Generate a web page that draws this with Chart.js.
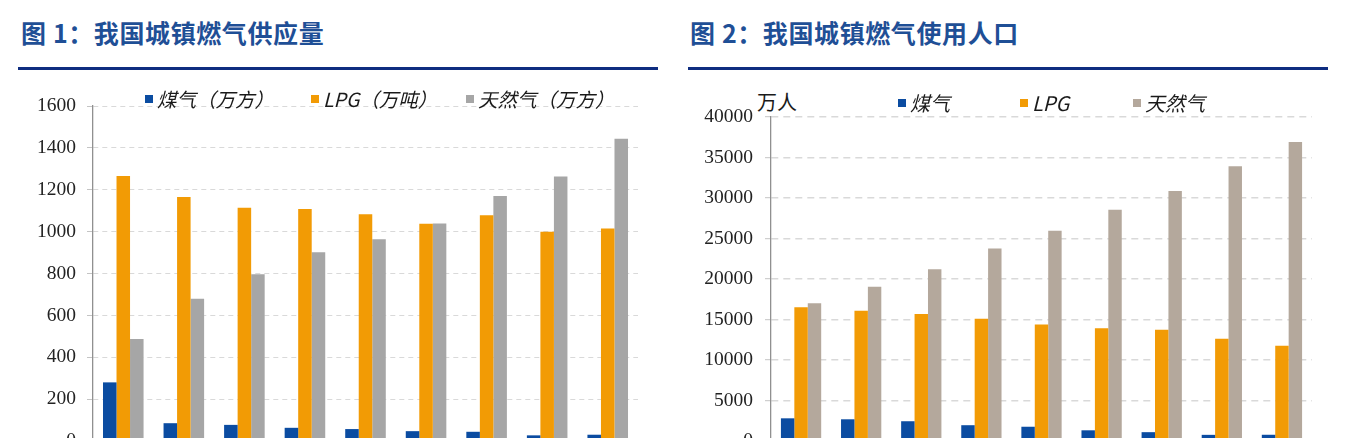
<!DOCTYPE html>
<html lang="zh-CN">
<head>
<meta charset="utf-8">
<title>我国城镇燃气</title>
<script src="https://cdn.jsdelivr.net/npm/chart.js@4.4.1/dist/chart.umd.min.js"></script>
<style>
  html, body { margin: 0; padding: 0; background: #fff; }
  body {
    width: 1346px; height: 438px; overflow: hidden; position: relative;
    font-family: "Noto Sans CJK SC", "Noto Sans", sans-serif;
  }
  .title {
    position: absolute; top: 19px; font-size: 25px; line-height: 27px;
    font-weight: 700; color: #1f4f96; letter-spacing: 0.6px; white-space: nowrap;
  }
  .rule { position: absolute; top: 67px; height: 2.5px; width: 640px; background: #0e2d80; }
  canvas { position: absolute; top: 0; }
  .legend-item {
    position: absolute; white-space: nowrap; font-style: italic; color: #1a1a1a;
    line-height: 22px; height: 22px;
  }
  .legend-item .swatch { position: absolute; left: 0; top: 7px; width: 8px; height: 8px; }
  .legend-item .label { position: absolute; top: 0; }
  .unit { position: absolute; left: 757px; top: 90px; font-size: 20px; line-height: 24px; color: #1a1a1a; }
</style>
</head>
<body>
<div class="title" style="left:21px">图 1：我国城镇燃气供应量</div>
<div class="rule" style="left:18px"></div>
<div class="title" style="left:690px">图 2：我国城镇燃气使用人口</div>
<div class="rule" style="left:688px"></div>
<div class="unit">万人</div>

<canvas id="supply" width="673" height="500" style="left:0"></canvas>
<canvas id="population" width="673" height="500" style="left:673px"></canvas>

<script>
const years = ["2010", "2011", "2012", "2013", "2014", "2015", "2016", "2017", "2018"];

// 图1 供应量
const supplyNames = ["煤气（万方）", "LPG（万吨）", "天然气（万方）"];
const supplyCoalGas = [280, 85, 77, 63, 57, 47, 44, 27, 30];
const supplyLpg = [1266, 1165, 1114, 1108, 1083, 1038, 1078, 999, 1015];
const supplyNaturalGas = [487, 679, 796, 902, 963, 1039, 1170, 1263, 1443];
const supplyTicks = [0, 200, 400, 600, 800, 1000, 1200, 1400, 1600];

// 图2 使用人口（万人）
const populationNames = ["煤气", "LPG", "天然气"];
const popCoalGas = [2800, 2680, 2440, 1950, 1760, 1320, 1090, 760, 770];
const popLpg = [16500, 16090, 15680, 15100, 14380, 13920, 13740, 12620, 11770];
const popNaturalGas = [17020, 19030, 21210, 23780, 25970, 28560, 30860, 33930, 36900];
const populationTicks = [0, 5000, 10000, 15000, 20000, 25000, 30000, 35000, 40000];

const BLUE = "#0b4ca1";
const ORANGE = "#f29b05";
const GRAY = "#a6a6a6";
const TAN = "#b4a89c";

function makeDatasets(names, series, colors) {
  return series.map((values, i) => ({
    label: names[i],
    data: values,
    backgroundColor: colors[i],
    borderWidth: 0,
    categoryPercentage: 0.67,
    barPercentage: 1.0,
  }));
}

function drawChart(canvasId, datasets, ticks, opts) {
  const ctx = document.getElementById(canvasId).getContext("2d");
  return new Chart(ctx, {
    type: "bar",
    data: { labels: years, datasets: datasets },
    options: {
      responsive: false,
      animation: false,
      layout: { padding: { top: opts.top, right: opts.right, bottom: 19, left: 0 } },
      plugins: { legend: { display: false }, tooltip: { enabled: false } },
      scales: {
        x: {
          afterFit: (scale) => { scale.height = 40; },
          grid: { display: false },
          border: { display: true, color: "#909090", width: 1.3 },
          ticks: { color: "#222", font: { family: "Liberation Serif", size: 19.5 } },
        },
        y: {
          min: 0,
          max: ticks[ticks.length - 1],
          afterFit: (scale) => { scale.width = opts.axisWidth; },
          afterBuildTicks: (scale) => { scale.ticks = ticks.map((v) => ({ value: v })); },
          grid: {
            color: "#d9d9d9",
            lineWidth: opts.gridWidth,
            drawTicks: true,
            tickLength: 6,
            tickColor: "#c4c4c4",
            tickWidth: 1,
          },
          border: { display: true, color: "#909090", width: 1.3, dash: opts.dash },
          ticks: {
            padding: opts.labelPad,
            color: "#222",
            font: { family: "Liberation Serif", size: 19.5 },
            callback: (value) => String(value),
          },
        },
      },
    },
  });
}

function addLegend(names, colors, swatchLefts, top, fontSize) {
  names.forEach((name, i) => {
    const item = document.createElement("div");
    item.className = "legend-item";
    item.style.left = swatchLefts[i] + "px";
    item.style.top = top + "px";
    item.style.fontSize = fontSize + "px";

    const swatch = document.createElement("span");
    swatch.className = "swatch";
    swatch.style.background = colors[i];
    item.appendChild(swatch);

    const label = document.createElement("span");
    label.className = "label";
    label.style.left = "12px";
    label.textContent = name;
    item.appendChild(label);

    document.body.appendChild(item);
  });
}

drawChart(
  "supply",
  makeDatasets(supplyNames, [supplyCoalGas, supplyLpg, supplyNaturalGas], [BLUE, ORANGE, GRAY]),
  supplyTicks,
  { top: 106, right: 35, axisWidth: 93, labelPad: 11, dash: [5, 4], gridWidth: 1 }
);

drawChart(
  "population",
  makeDatasets(populationNames, [popCoalGas, popLpg, popNaturalGas], [BLUE, ORANGE, TAN]),
  populationTicks,
  { top: 117, right: 34, axisWidth: 98, labelPad: 12, dash: [7, 5], gridWidth: 1.4 }
);

addLegend(supplyNames, [BLUE, ORANGE, GRAY], [145, 311, 466], 88, 19.5);
addLegend(populationNames, [BLUE, ORANGE, TAN], [898, 1020, 1133], 92, 20);
</script>
</body>
</html>
